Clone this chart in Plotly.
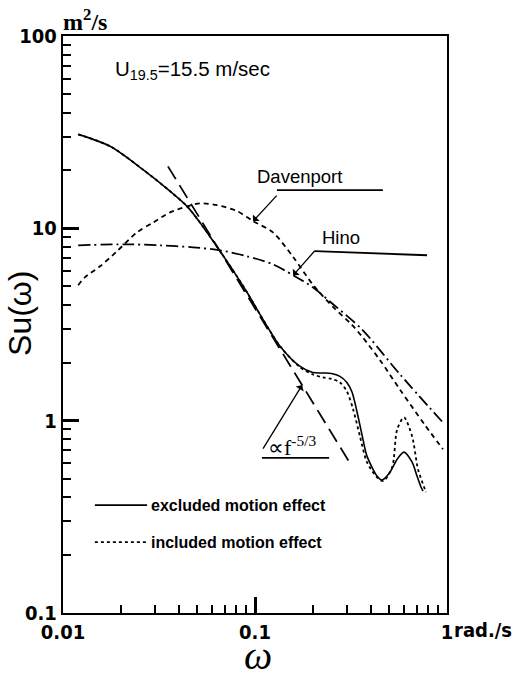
import numpy as np
import plotly.graph_objects as go

# Wave-frequency spectrum of longitudinal wind velocity, U19.5 = 15.5 m/s
omega_excl = [0.0120, 0.0176, 0.0261, 0.0361, 0.0443, 0.0536, 0.0658, 0.0805, 0.0908, 0.1155,
              0.135, 0.171, 0.200, 0.226, 0.250, 0.277, 0.301, 0.320, 0.340, 0.365,
              0.383, 0.432, 0.458, 0.505, 0.550, 0.597, 0.658, 0.698, 0.732, 0.750]
su_excl = [30.8, 26.7, 20.2, 15.6, 13.0, 10.2, 7.6, 5.63, 4.65, 3.10,
           2.44, 1.92, 1.78, 1.77, 1.76, 1.70, 1.58, 1.41, 1.11, 0.80,
           0.654, 0.515, 0.491, 0.540, 0.63, 0.686, 0.608, 0.515, 0.452, 0.43]

omega_incl = [0.0120, 0.0176, 0.0261, 0.0361, 0.0443, 0.0536, 0.0658, 0.0805, 0.0908, 0.1155,
              0.135, 0.171, 0.200, 0.226, 0.250, 0.277, 0.301, 0.324, 0.352, 0.383,
              0.432, 0.465, 0.518, 0.550, 0.597, 0.658, 0.706, 0.767, 0.778]
su_incl = [30.8, 26.7, 20.2, 15.6, 13.0, 10.2, 7.6, 5.63, 4.65, 3.10,
           2.44, 1.90, 1.74, 1.68, 1.65, 1.58, 1.42, 1.15, 0.83, 0.608,
           0.508, 0.485, 0.573, 0.90, 1.04, 0.83, 0.56, 0.44, 0.425]

omega_dav = [0.0120, 0.0130, 0.0156, 0.0191, 0.0243, 0.0294, 0.0361, 0.0443, 0.0518, 0.0634,
             0.0805, 0.0977, 0.124, 0.158, 0.200, 0.255, 0.320, 0.365, 0.450, 0.569,
             0.767, 0.953]
su_dav = [5.06, 5.56, 6.35, 7.6, 9.53, 10.7, 12.1, 13.0, 13.5, 13.2,
          12.3, 10.9, 9.53, 7.1, 5.1, 3.9, 3.15, 2.7, 2.05, 1.45,
          0.95, 0.71]

omega_hino = [0.0120, 0.0215, 0.032, 0.0475, 0.0658, 0.0908, 0.124, 0.158, 0.200, 0.255,
              0.360, 0.569, 0.942]
su_hino = [8.16, 8.26, 8.16, 7.97, 7.69, 7.16, 6.50, 5.70, 4.94, 4.03,
           2.99, 1.74, 0.99]

# -5/3 reference slope
omega_k = [0.0352, 0.313]
su_k = [21.0, 0.60]

# tick positions
x_major = [0.01, 0.1, 1]
x_major_text = ["0.01", "0.1", "1"]
y_major = [0.1, 1, 10, 100]
y_major_text = ["0.1", "1", "10", "100"]
x_minor = [m * 10.0 ** e for e in (-2, -1) for m in range(2, 10)]
y_minor = [m * 10.0 ** e for e in (-1, 0, 1) for m in range(2, 10)]

TICKFONT = dict(family="DejaVu Sans Condensed, Liberation Sans Narrow, Arial Narrow", size=20,
                color="black", weight="bold")
TEXTFONT = dict(family="Liberation Sans, Arial", size=18.5, color="black")

fig = go.Figure()
fig.add_trace(go.Scatter(x=omega_incl, y=su_incl, mode="lines",
                         line=dict(color="black", width=1.8, dash="dot", shape="spline", smoothing=0.8),
                         name="included motion effect"))
fig.add_trace(go.Scatter(x=omega_excl, y=su_excl, mode="lines",
                         line=dict(color="black", width=1.6, shape="spline", smoothing=0.8),
                         name="excluded motion effect"))
fig.add_trace(go.Scatter(x=omega_dav, y=su_dav, mode="lines",
                         line=dict(color="black", width=1.8, dash="5px,4px", shape="spline", smoothing=0.8),
                         name="Davenport"))
fig.add_trace(go.Scatter(x=omega_hino, y=su_hino, mode="lines",
                         line=dict(color="black", width=1.8, dash="12px,4px,2px,4px", shape="spline", smoothing=0.8),
                         name="Hino"))
fig.add_trace(go.Scatter(x=omega_k, y=su_k, mode="lines",
                         line=dict(color="black", width=1.8, dash="15px,7px"),
                         name="-5/3"))

axis_style = dict(type="log", tickmode="array", ticks="inside", ticklen=16, tickwidth=2.5,
                  tickcolor="black", showline=True, linecolor="black", linewidth=2.4,
                  mirror=True, showgrid=False, zeroline=False, tickfont=TICKFONT)
fig.update_xaxes(range=[-2, 0], tickvals=x_major, ticktext=x_major_text,
                 minor=dict(tickmode="array", tickvals=x_minor, ticks="inside", ticklen=8,
                            tickwidth=2, tickcolor="black", showgrid=False),
                 **axis_style)
fig.update_yaxes(range=[-1, 2], tickvals=y_major, ticktext=y_major_text,
                 minor=dict(tickmode="array", tickvals=y_minor, ticks="inside", ticklen=8,
                            tickwidth=2, tickcolor="black", showgrid=False),
                 **axis_style)


def loglog_interp(x, xs, ys):
    return float(10 ** np.interp(np.log10(x), np.log10(xs), np.log10(ys)))


def label(x, y, text, font, xanchor="center", yanchor="middle", **kw):
    return dict(x=x, y=y, xref="paper", yref="paper", text=text, showarrow=False,
                xanchor=xanchor, yanchor=yanchor, font=font, **kw)


def pointer(x, y, ax, ay):
    return dict(x=np.log10(x), y=np.log10(y), xref="x", yref="y", text="", showarrow=True,
                ax=ax, ay=ay, arrowhead=1, arrowsize=1.2, arrowwidth=1.3, arrowcolor="black")


def leader(x0, y0, x1, y1, dash="solid", width=1.8):
    return dict(type="line", xref="paper", yref="paper", x0=x0, y0=y0, x1=x1, y1=y1,
                line=dict(color="black", width=width, dash=dash))


annotations = []
shapes = []

# Davenport label with leader
annotations.append(label(0.617, 0.757, "Davenport", TEXTFONT))
shapes.append(leader(0.557, 0.733, 0.833, 0.733))
annotations.append(pointer(omega_dav[11], su_dav[11], 25, -27))

# Hino label with leader
annotations.append(label(0.724, 0.650, "Hino", TEXTFONT))
shapes.append(leader(0.656, 0.627, 0.948, 0.620))
annotations.append(pointer(omega_hino[7], su_hino[7], 23, -26))

# -5/3 slope label
tip_x = 0.176
annotations.append(pointer(tip_x, loglog_interp(tip_x, omega_k, su_k), -40, 65))
annotations.append(label(0.529, 0.290, "∝f<sup>-5/3</sup>",
                         dict(family="Liberation Serif, Times New Roman", size=22, color="black"),
                         xanchor="left"))
shapes.append(leader(0.518, 0.269, 0.693, 0.269))

# Legend entries
legend_font = dict(family="Liberation Sans, Arial", size=16, color="black", weight="bold")
annotations.append(label(0.224, 0.187, "excluded motion effect", legend_font, xanchor="left"))
shapes.append(leader(0.083, 0.187, 0.219, 0.187, width=1.6))
annotations.append(label(0.224, 0.123, "included motion effect", legend_font, xanchor="left"))
shapes.append(leader(0.083, 0.123, 0.219, 0.123, dash="dot"))

# Wind speed note
annotations.append(label(0.130, 0.941, "U<sub>19.5</sub>=15.5 m/sec",
                         dict(family="Liberation Sans, Arial", size=20.5, color="black"),
                         xanchor="left"))

# Units and axis titles
annotations.append(label(0.057, 1.028, "m<sup>2</sup>/s",
                         dict(family="Liberation Serif, Times New Roman", size=24, color="black",
                              weight="bold")))
annotations.append(label(1.0, -0.029, "rad./s", TICKFONT, xanchor="left", xshift=5))
annotations.append(label(-0.112, 0.52, "Su(ω)",
                         dict(family="Liberation Sans, Arial", size=32, color="black"),
                         textangle=-90))
annotations.append(label(0.508, -0.0745, "<i>ω</i>",
                         dict(family="Liberation Serif, Times New Roman", size=40, color="black")))

fig.update_layout(width=513, height=676, margin=dict(l=63, r=66, t=36, b=63),
                  paper_bgcolor="white", plot_bgcolor="white", showlegend=False,
                  annotations=annotations, shapes=shapes)

fig.write_html("out.html")
